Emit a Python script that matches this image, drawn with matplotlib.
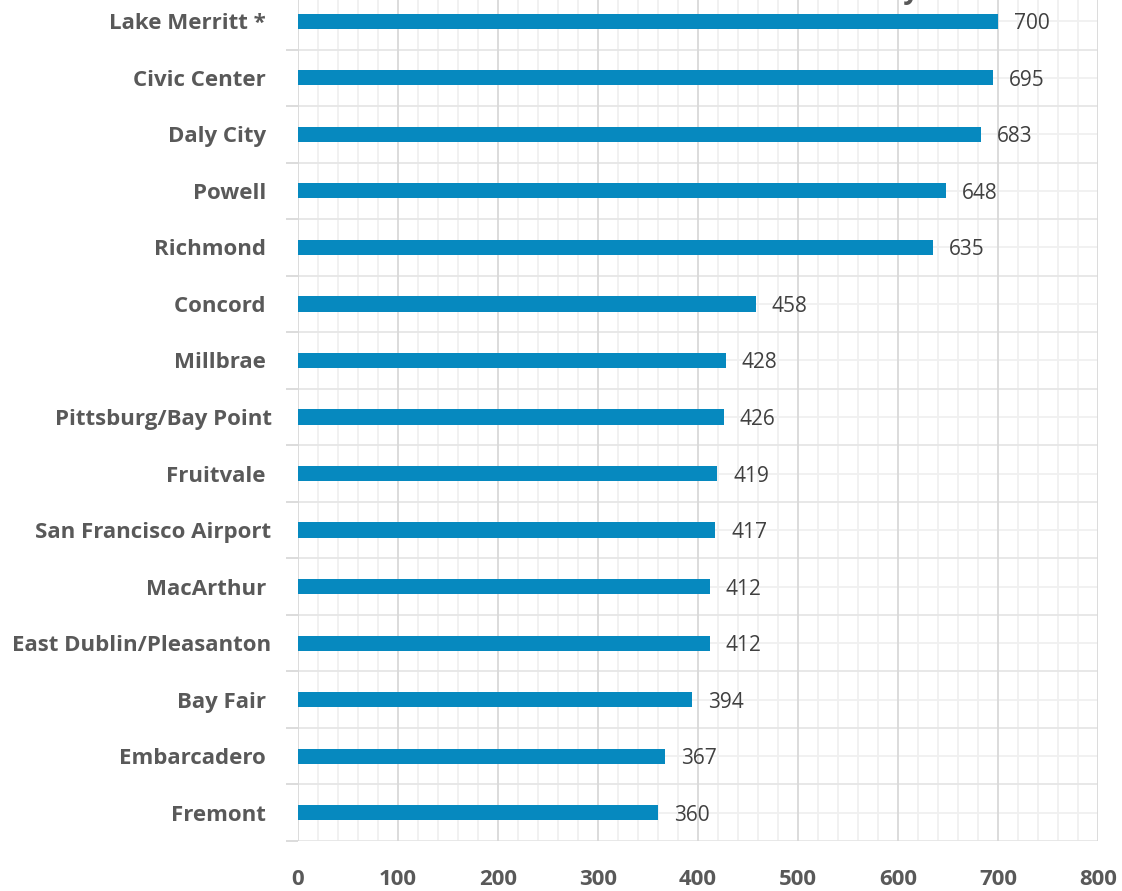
import matplotlib
matplotlib.use("Agg")
import matplotlib.pyplot as plt
import numpy as np

stations = ["Lake Merritt * ", "Civic Center ", "Daly City ", "Powell ", "Richmond ",
            "Concord ", "Millbrae ", "Pittsburg/Bay Point", "Fruitvale ",
            "San Francisco Airport", "MacArthur ", "East Dublin/Pleasanton",
            "Bay Fair ", "Embarcadero ", "Fremont "]
values = [700, 695, 683, 648, 635, 458, 428, 426, 419, 417, 412, 412, 394, 367, 360]
xticks = [0, 100, 200, 300, 400, 500, 600, 700, 800]

W, H = 1122, 891
fig = plt.figure(figsize=(W / 100, H / 100), dpi=100)
fig.patch.set_facecolor("white")
left, right = 298 / W, 1098 / W
bottom = (H - 841) / H
top = (H + 7) / H
ax = fig.add_axes([left, bottom, right - left, top - bottom])

n = len(stations)
y = np.arange(n)
ax.barh(y, values, height=0.27, color="#0689BF", zorder=3)
ax.set_ylim(n - 0.5, -0.5)
ax.set_xlim(0, 800)

# gridlines
for v in range(0, 801, 20):
    if v % 100 == 0:
        ax.axvline(v, color="#d9d9d9", lw=1.3, zorder=1)
    else:
        ax.axvline(v, color="#f0f0f0", lw=1.3, zorder=0.5)
for b in np.arange(-0.5, n, 1.0):
    ax.axhline(b, color="#e6e6e6", lw=1.3, zorder=0.8)
for c in y:
    ax.axhline(c, color="#f0f0f0", lw=1.3, zorder=0.6)

for s in ax.spines.values():
    s.set_visible(False)

ax.set_yticks(np.arange(-0.5, n, 1.0))
ax.set_yticklabels([])
ax.tick_params(axis="y", which="major", length=9, color="#d9d9d9", width=1.3)
ax.set_yticks(y, minor=True)
ax.set_yticklabels(stations, minor=True, fontsize=16, fontweight="bold",
                   color="#595959", family=["Open Sans", "DejaVu Sans"])
ax.tick_params(axis="y", which="minor", length=0, pad=19)

ax.set_xticks(xticks)
ax.set_xticklabels([str(t) for t in xticks], fontsize=16, fontweight="bold",
                   color="#595959", family=["Open Sans", "DejaVu Sans"])
ax.tick_params(axis="x", length=0, pad=20)

for yi, v in zip(y, values):
    ax.text(v + 16, yi, str(v), va="center_baseline", ha="left", fontsize=15,
            color="#404040", family=["Open Sans", "DejaVu Sans"], zorder=4)

fig.text(920 / W, (H + 2) / H, "Daily", ha="right", va="baseline",
         fontsize=20, fontweight="bold", color="#595959",
         family=["Open Sans", "DejaVu Sans"])

fig.savefig("out.png", dpi=100, facecolor="white")
